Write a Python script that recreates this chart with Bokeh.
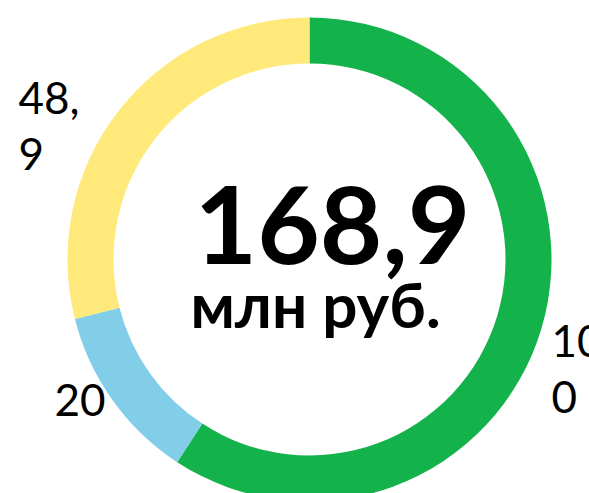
import math
from bokeh.plotting import figure
from bokeh.models import Range1d, ColumnDataSource
from bokeh.core.properties import value
from bokeh.embed import file_html
from bokeh.resources import INLINE

# data
categories = ["A", "B", "C"]
values = [100, 20, 48.9]
colors = ["#14B24A", "#82CDE8", "#FEE97A"]
labels = ["10\n0", "20", "48,\n9"]
total_label = "168,9"
unit_label = "млн руб."

W, H = 589, 493
cx, cy = 309, H - 259
r_out, r_in = 242, 196
label_x = [551, 54, 18]
label_y = [H - 313, H - 383, H - 70]

total = sum(values)
starts, ends = [], []
acc = 0.0
for v in values:
    a0 = math.pi / 2 - 2 * math.pi * acc / total
    acc += v
    a1 = math.pi / 2 - 2 * math.pi * acc / total
    starts.append(a0)
    ends.append(a1)

src = ColumnDataSource(dict(cat=categories, val=values, color=colors,
                            start=starts, end=ends,
                            x=[cx] * 3, y=[cy] * 3,
                            lx=label_x, ly=label_y, lab=labels))

p = figure(width=W, height=H, output_backend="svg", toolbar_location=None,
           x_range=Range1d(0, W), y_range=Range1d(0, H),
           min_border=0, outline_line_color=None)
p.axis.visible = False
p.grid.visible = False
p.background_fill_color = "white"
p.border_fill_color = "white"

p.annular_wedge(x="x", y="y", inner_radius=r_in, outer_radius=r_out,
                start_angle="start", end_angle="end", direction="clock",
                fill_color="color", line_color=None, source=src)

p.text(x="lx", y="ly", text="lab", source=src, text_font=value("Lato"),
       text_font_size="44px", text_baseline="top", text_align="left",
       text_color="black", text_line_height=1.09)

p.text(x=[332], y=[H - 224], text=[total_label], text_font=value("Lato"),
       text_font_style="bold", text_font_size="108px", text_align="center",
       text_baseline="middle", text_color="black")
p.text(x=[315], y=[H - 303], text=[unit_label], text_font=value("Lato"),
       text_font_style="bold", text_font_size="62px", text_align="center",
       text_baseline="middle", text_color="black")

open("out.html", "w").write(file_html(p, INLINE))
